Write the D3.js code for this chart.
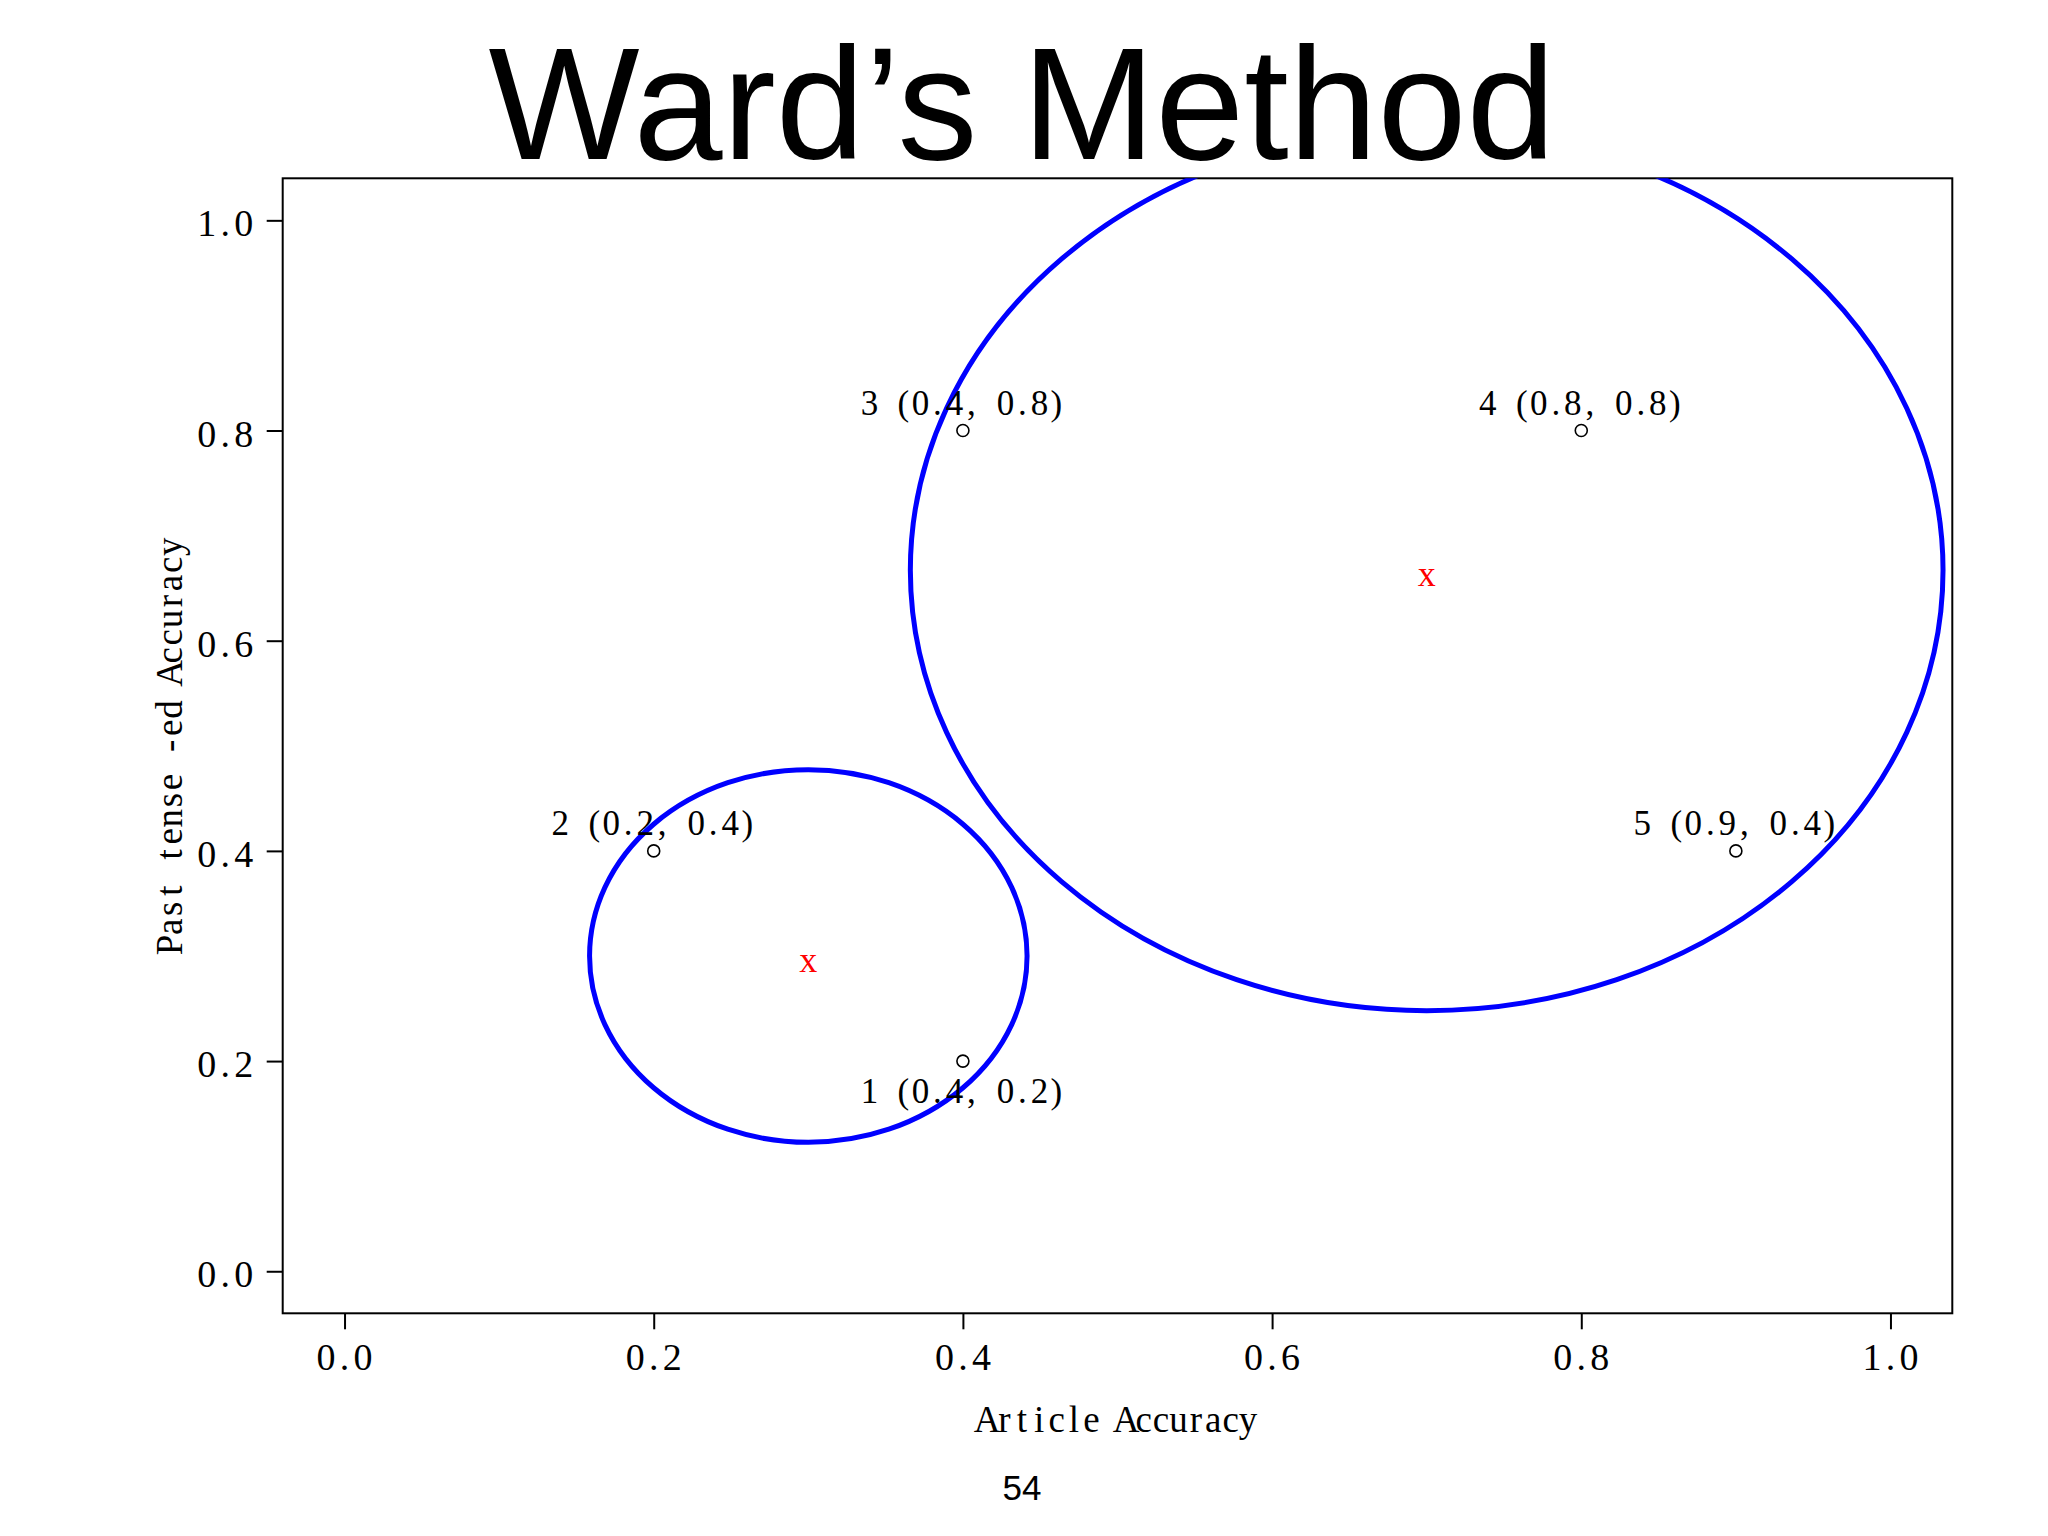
<!DOCTYPE html>
<html><head><meta charset="utf-8">
<script src="https://cdn.jsdelivr.net/npm/d3@7"></script>
<style>body{margin:0;background:#fff}</style></head><body>
<script>
// ---- data ----
const pointIds = [1, 2, 3, 4, 5];
const pointX = [0.4, 0.2, 0.4, 0.8, 0.9];
const pointY = [0.2, 0.4, 0.8, 0.8, 0.4];
const clusterX = [0.3, 0.7];
const clusterY = [0.3, 0.667];
const clusterRX = [0.1415, 0.334];
const clusterRY = [0.1773, 0.419];
const xTicks = [0, 0.2, 0.4, 0.6, 0.8, 1.0];
const yTicks = [0, 0.2, 0.4, 0.6, 0.8, 1.0];
const titleText = "Ward’s Method";
const xTitle = "Article Accuracy";
const yTitle = "Past tense -ed Accuracy";
const pageNum = "54";

// ---- layout ----
const W = 2048, H = 1536;
const L = 282.7, R = 1952.3, T = 178.3, B = 1313.3;
const serif = "'Liberation Serif','Times New Roman',serif";
const sans = "'Liberation Sans',Arial,Helvetica,sans-serif";

const svg = d3.select("body").append("svg").attr("width", W).attr("height", H)
  .style("background", "#fff");

const x = d3.scaleLinear().domain([-0.04, 1.04]).range([L, R]);
const y = d3.scaleLinear().domain([-0.04, 1.04]).range([B, T]);

// monospace-like text: each glyph centred in a fixed cell
function gridText(g, str, x0, y0, cell, anchor, fs, fill) {
  const chars = [...str];
  const w = chars.length * cell;
  const start = anchor === "middle" ? x0 - w / 2 : anchor === "end" ? x0 - w : x0;
  const t = g.append("text").attr("font-family", serif).attr("font-size", fs)
    .attr("fill", fill || "#000").attr("text-anchor", "middle")
    .attr("x", start + 0.5 * cell).attr("y", y0);
  chars.forEach((c, i) => {
    if (c === " ") return;
    t.append("tspan").attr("x", start + (i + 0.5) * cell).attr("y", y0).text(c);
  });
  return t;
}

// title
svg.append("text").attr("x", 1022).attr("y", 159).attr("text-anchor", "middle")
  .attr("font-family", sans).attr("font-size", 160).attr("fill", "#000").text(titleText);

// clip
svg.append("defs").append("clipPath").attr("id", "plotclip")
  .append("rect").attr("x", L).attr("y", T).attr("width", R - L).attr("height", B - T);

// axes ticks
const fmt = d3.format(".1f");
const xAxis = svg.append("g").attr("transform", `translate(0,${B})`)
  .call(d3.axisBottom(x).tickValues(xTicks).tickSize(16).tickSizeOuter(0).tickFormat(""));
const yAxis = svg.append("g").attr("transform", `translate(${L},0)`)
  .call(d3.axisLeft(y).tickValues(yTicks).tickSize(16).tickSizeOuter(0).tickFormat(""));
[xAxis, yAxis].forEach(a => {
  a.select(".domain").remove();
  a.selectAll(".tick line").attr("stroke", "#000").attr("stroke-width", 2);
});

// tick labels
const tl = svg.append("g");
xTicks.forEach(v => gridText(tl, fmt(v), x(v), 1370, 18.5, "middle", 38));
yTicks.forEach(v => gridText(tl, fmt(v), 253, y(v) + 16, 18.5, "end", 38));

// plot box
svg.append("rect").attr("x", L).attr("y", T).attr("width", R - L).attr("height", B - T)
  .attr("fill", "none").attr("stroke", "#000").attr("stroke-width", 2);

// axis titles
gridText(svg, xTitle, (L + R) / 2, 1432, 17.4, "middle", 37);
const yg = svg.append("g").attr("transform", `translate(182,${(T + B) / 2}) rotate(-90)`);
gridText(yg, yTitle, 0, 0, 18.1, "middle", 37);

// cluster ellipses
const clusters = clusterX.map((cx, i) => ({ cx, cy: clusterY[i], rx: clusterRX[i], ry: clusterRY[i] }));
svg.append("g").attr("clip-path", "url(#plotclip)").selectAll("ellipse").data(clusters).join("ellipse")
  .attr("cx", d => x(d.cx)).attr("cy", d => y(d.cy))
  .attr("rx", d => x(d.cx + d.rx) - x(d.cx)).attr("ry", d => y(d.cy) - y(d.cy + d.ry))
  .attr("fill", "none").attr("stroke", "#0000FF").attr("stroke-width", 5);

// cluster centre markers
const cm = svg.append("g");
clusters.forEach(d => {
  cm.append("text").attr("x", x(d.cx)).attr("y", y(d.cy) + 16).attr("text-anchor", "middle")
    .attr("font-family", serif).attr("font-size", 36).attr("fill", "#FF0000").text("x");
});

// points
const pts = pointIds.map((id, i) => ({ id, x: pointX[i], y: pointY[i] }));
svg.append("g").selectAll("circle").data(pts).join("circle")
  .attr("cx", d => x(d.x)).attr("cy", d => y(d.y)).attr("r", 6)
  .attr("fill", "none").attr("stroke", "#000").attr("stroke-width", 1.6);

// point labels
const minY = d3.min(pointY);
const lg = svg.append("g");
pts.forEach(d => {
  const label = `${d.id} (${fmt(d.x)}, ${fmt(d.y)})`;
  const below = d.y === minY;
  gridText(lg, label, x(d.x), below ? y(d.y) + 42 : y(d.y) - 16, 17, "middle", 35);
});

// page number
svg.append("text").attr("x", 1022).attr("y", 1500).attr("text-anchor", "middle")
  .attr("font-family", sans).attr("font-size", 35).attr("fill", "#000").text(pageNum);
</script>
</body></html>
